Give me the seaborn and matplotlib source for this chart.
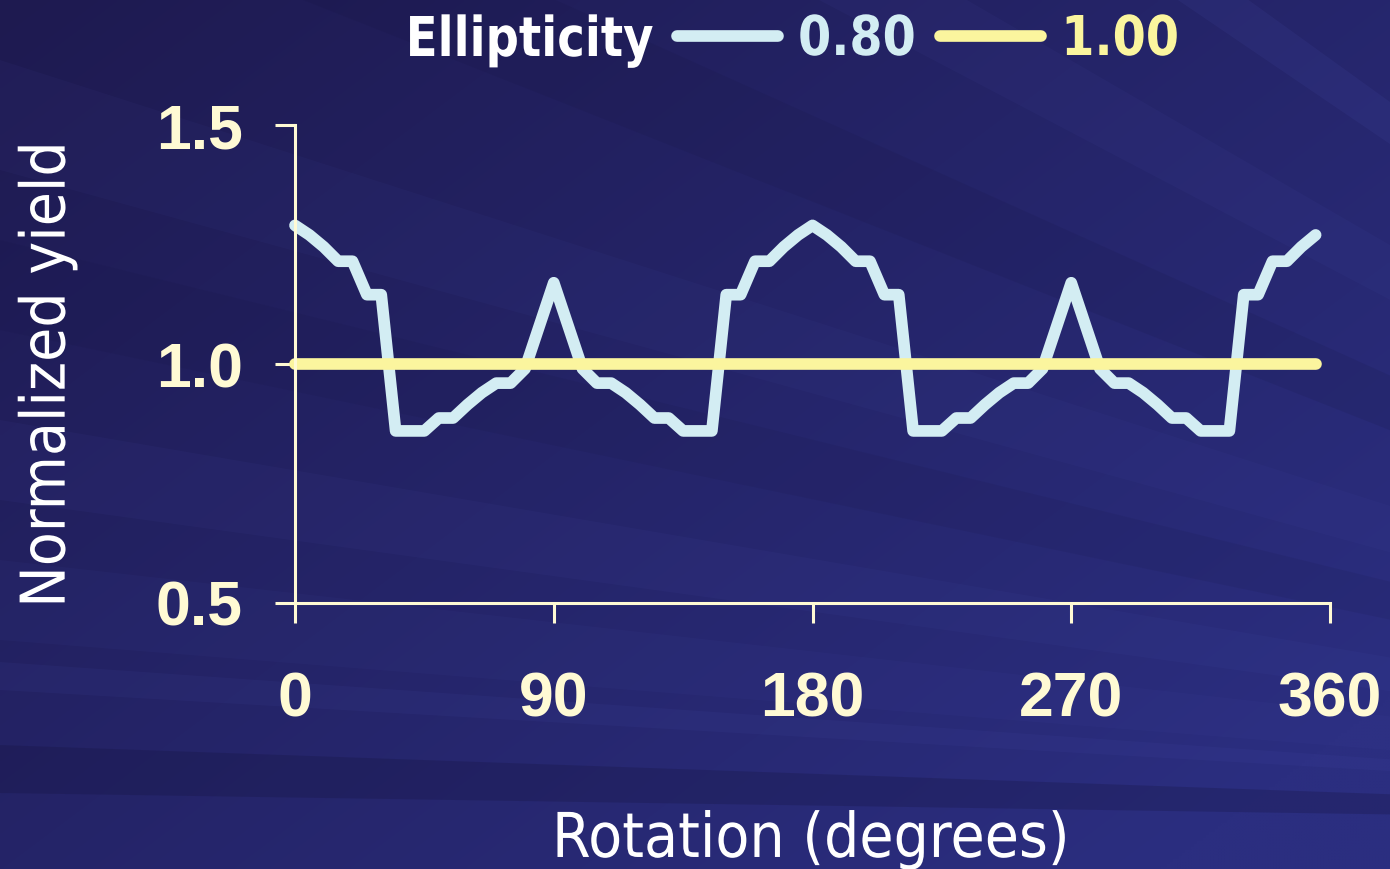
import numpy as np
import pandas as pd
import matplotlib
matplotlib.use("Agg")
import matplotlib.pyplot as plt
import seaborn as sns
from matplotlib.patches import Polygon
from matplotlib.lines import Line2D
from matplotlib.patheffects import AbstractPathEffect
from matplotlib.transforms import Affine2D

# ---- data -------------------------------------------------------------
rotation_deg = [0, 5, 10, 15, 20, 25, 30, 35, 40, 45, 50, 55, 60, 65, 70, 75,
                80, 85, 90, 95, 100, 105, 110, 115, 120, 125, 130, 135, 140,
                145, 150, 155, 160, 165, 170, 175, 180, 185, 190, 195, 200,
                205, 210, 215, 220, 225, 230, 235, 240, 245, 250, 255, 260,
                265, 270, 275, 280, 285, 290, 295, 300, 305, 310, 315, 320,
                325, 330, 335, 340, 345, 350, 355]

yield_ell_080 = [1.29, 1.27, 1.245, 1.215, 1.215, 1.145, 1.145, 0.86, 0.86,
                 0.86, 0.887, 0.887, 0.915, 0.94, 0.96, 0.96, 0.99, 1.08,
                 1.17, 1.08, 0.99, 0.96, 0.96, 0.94, 0.915, 0.887, 0.887,
                 0.86, 0.86, 0.86, 1.145, 1.145, 1.215, 1.215, 1.245, 1.27,
                 1.29, 1.27, 1.245, 1.215, 1.215, 1.145, 1.145, 0.86, 0.86,
                 0.86, 0.887, 0.887, 0.915, 0.94, 0.96, 0.96, 0.99, 1.08,
                 1.17, 1.08, 0.99, 0.96, 0.96, 0.94, 0.915, 0.887, 0.887,
                 0.86, 0.86, 0.86, 1.145, 1.145, 1.215, 1.215, 1.245, 1.27]

yield_ell_100 = [1.00, 1.00, 1.00, 1.00, 1.00, 1.00, 1.00, 1.00, 1.00, 1.00,
                 1.00, 1.00, 1.00, 1.00, 1.00, 1.00, 1.00, 1.00, 1.00, 1.00,
                 1.00, 1.00, 1.00, 1.00, 1.00, 1.00, 1.00, 1.00, 1.00, 1.00,
                 1.00, 1.00, 1.00, 1.00, 1.00, 1.00, 1.00, 1.00, 1.00, 1.00,
                 1.00, 1.00, 1.00, 1.00, 1.00, 1.00, 1.00, 1.00, 1.00, 1.00,
                 1.00, 1.00, 1.00, 1.00, 1.00, 1.00, 1.00, 1.00, 1.00, 1.00,
                 1.00, 1.00, 1.00, 1.00, 1.00, 1.00, 1.00, 1.00, 1.00, 1.00,
                 1.00, 1.00]

ellipticity_labels = ["0.80", "1.00"]
x_ticks = [0, 90, 180, 270, 360]
x_tick_labels = ["0", "90", "180", "270", "360"]
y_ticks = [0.5, 1.0, 1.5]
y_tick_labels = ["0.5", "1.0", "1.5"]

# ---- style ------------------------------------------------------------
C_BLUE = "#d3edf3"
C_YELLOW = "#fbf59e"
C_AXIS = "#fffad4"
palette = {"0.80": C_BLUE, "1.00": C_YELLOW}
LW = 8.4

sns.set_style("ticks")
plt.rcParams["font.family"] = ["Liberation Sans", "DejaVu Sans"]


class Squeeze(AbstractPathEffect):
    """Narrow the glyph outlines horizontally around an anchor."""

    def __init__(self, sx, anchor=0.5):
        super().__init__()
        self.sx = sx
        self.anchor = anchor

    def draw_path(self, renderer, gc, tpath, affine, rgbFace=None):
        ext = tpath.get_extents()
        x0 = ext.x0 + self.anchor * ext.width
        t = Affine2D().translate(-x0, 0).scale(self.sx, 1).translate(x0, 0)
        renderer.draw_path(gc, tpath, t + affine, rgbFace)


W, H = 1390, 869
fig = plt.figure(figsize=(W / 100, H / 100), dpi=100)

# ---- slide background: navy gradient with faint rays ----------------
bg = fig.add_axes([0, 0, 1, 1], zorder=-10)
bg.set_xlim(0, W)
bg.set_ylim(H, 0)
bg.axis("off")
yy, xx = np.mgrid[0:H:3, 0:W:3]
t = np.clip(0.6 * xx / W + 0.5 * yy / H, 0, 1)
c0 = np.array([0x1e, 0x1a, 0x50]) / 255
c1 = np.array([0x2b, 0x2e, 0x80]) / 255
bg.imshow(c0 + (c1 - c0) * t[..., None], extent=(0, W, H, 0),
          aspect="auto", interpolation="bilinear")

focus = np.array([2400.0, 830.0])


def ray(y_a, y_b, color, alpha):
    s = (2400 + 300) / 2400
    pa = focus + s * (np.array([0.0, y_a]) - focus)
    pb = focus + s * (np.array([0.0, y_b]) - focus)
    bg.add_patch(Polygon([focus, pa, pb], closed=True, facecolor=color,
                         edgecolor="none", alpha=alpha))


LIGHT = "#5a62c8"
DARK = "#14123c"
for ya, yb, col, a in [(-1350, -1200, LIGHT, 0.12), (-900, -800, LIGHT, 0.09),
                       (-560, -430, LIGHT, 0.06), (-250, -120, DARK, 0.12),
                       (60, 170, LIGHT, 0.05), (240, 330, DARK, 0.10),
                       (420, 500, LIGHT, 0.06), (560, 640, LIGHT, 0.05),
                       (662, 690, LIGHT, 0.07), (745, 793, DARK, 0.25)]:
    ray(ya, yb, col, a)

# ---- chart ------------------------------------------------------------
ax = fig.add_axes([295 / W, 1 - 603 / H, 1035 / W, 478 / H])
ax.set_facecolor("none")

df = pd.DataFrame({
    "Rotation": rotation_deg * 2,
    "Yield": yield_ell_080 + yield_ell_100,
    "Ellipticity": [ellipticity_labels[0]] * len(rotation_deg)
                   + [ellipticity_labels[1]] * len(rotation_deg),
})
sns.lineplot(data=df, x="Rotation", y="Yield", hue="Ellipticity",
             hue_order=ellipticity_labels, palette=palette, linewidth=LW,
             solid_capstyle="round", solid_joinstyle="round", legend=False,
             ax=ax, clip_on=False)

ax.set_xlim(0, 360)
ax.set_ylim(0.5, 1.5)
sns.despine(ax=ax)
for side in ("left", "bottom"):
    ax.spines[side].set_color(C_AXIS)
    ax.spines[side].set_linewidth(2.2)
ax.tick_params(axis="both", direction="out", length=14.5, width=2.2,
               color=C_AXIS, labelcolor=C_AXIS)
ax.tick_params(axis="x", pad=34)
ax.tick_params(axis="y", pad=23)
ax.set_xticks(x_ticks, labels=x_tick_labels, fontsize=45, fontweight="bold")
ax.set_yticks(y_ticks, labels=y_tick_labels, fontsize=45, fontweight="bold")

ax.set_xlabel("Rotation (degrees)", fontsize=44.5, color="white",
              family="DejaVu Sans",
              path_effects=[Squeeze(0.9, 0.5)])
ax.xaxis.set_label_coords(0.498, -0.433)
ax.set_ylabel("Normalized yield", fontsize=44.5, color="white",
              family="DejaVu Sans",
              path_effects=[Squeeze(0.9, 0.5)])
ax.yaxis.set_label_coords(-0.21, 0.477)

# ---- legend across the top ------------------------------------------
LEG_SIZE = 39.5
LEG_SQ = 0.87
fig.text(405 / W, 1 - 56 / H, "Ellipticity", fontsize=LEG_SIZE,
         fontweight="bold", family="DejaVu Sans", color="white",
         ha="left", va="baseline", path_effects=[Squeeze(0.85, 0.0)])
handles = [Line2D([], [], color=palette[k], linewidth=LW,
                  solid_capstyle="round") for k in ellipticity_labels]
leg = fig.legend(handles, ellipticity_labels, loc="center left",
                 bbox_to_anchor=(677 / W, 1 - 40 / H), ncol=2, frameon=False,
                 borderpad=0, borderaxespad=0, handlelength=1.84,
                 handletextpad=0.36, columnspacing=0.12,
                 prop={"size": LEG_SIZE, "weight": "bold",
                       "family": "DejaVu Sans"})
for txt, k in zip(leg.get_texts(), ellipticity_labels):
    txt.set_color(palette[k])
    txt.set_path_effects([Squeeze(LEG_SQ, 0.0)])

fig.savefig("out.png", dpi=100)
